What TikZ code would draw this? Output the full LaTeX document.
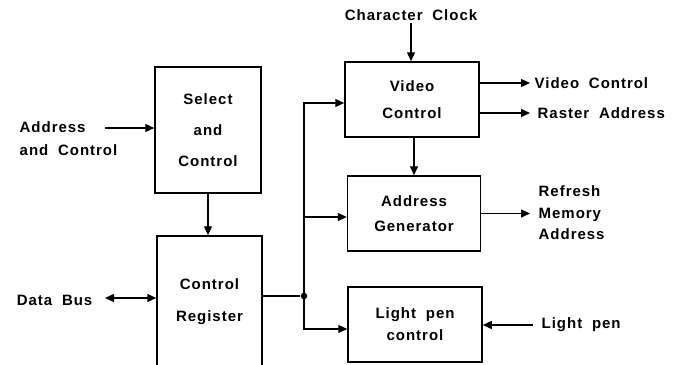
\documentclass[tikz,border=0pt]{standalone}
\usepackage{fontspec}
\setmainfont{Liberation Sans}[LetterSpace=6.5, WordSpace=1.9]
\usetikzlibrary{arrows.meta, calc, positioning}
\tikzset{
  % heavy strokes and solid tips, like the scanned original
  every picture/.append style = {line width=1.4pt, >={Triangle[length=9pt, width=8pt]}},
  blk/.style  = {draw, line width=1.5pt, align=center, inner sep=0pt,
                 font=\fontsize{15}{#1}\selectfont\bfseries},
  blk/.default = 26,
  sig/.style  = {->},
  lbl/.style  = {inner xsep=4pt, inner ysep=2pt, font=\fontsize{15}{#1}\selectfont\bfseries},
  lbl/.default = 22,
  tap/.style  = {circle, fill=black, inner sep=0pt, minimum size=6.5pt},
}

\begin{document}
\begin{tikzpicture}[x=1pt, y=-1pt]
  \clip (0,0) rectangle (674,364);
  % left column
  \node[blk=31, minimum width=106, minimum height=126] (selctl) at (208,130) {Select\\and\\Control};
  \node[blk=32, minimum width=105, minimum height=131] (ctlreg) at (209.5,301.5) {Control\\Register};
  \node[lbl=23, anchor=west, align=left] (addr) at (15,139) {Address\\and Control};
  \node[lbl, anchor=east] (dbus) at (97,300) {Data Bus};
  \coordinate (addrin) at (105,128);
  \coordinate (dbin) at (105,298);
  \draw[sig] (addrin) -- (addrin -| selctl.west);
  \draw[<->] (dbin) -- (dbin -| ctlreg.west);
  \draw[sig] (selctl) -- (selctl |- ctlreg.north);
  % right column
  \node[blk=27, minimum width=134, minimum height=75] (vidctl) at (412,99.5) {Video\\Control};
  \node[blk=25, minimum width=133, minimum height=75] (addrgen) at (414,213.5) {Address\\Generator};
  \node[blk=22, minimum width=134, minimum height=75] (lpctl) at (415,324.5) {Light pen\\control};
  \node[lbl] (clk) at (411,15) {Character Clock};
  \node[lbl, anchor=west] (vcout) at (530,83) {Video Control};
  \node[lbl, anchor=west, inner xsep=7pt] (raout) at (530,113) {Raster Address};
  \node[lbl=21.5, anchor=west, align=left, inner xsep=8pt] (rma) at (530,213) {Refresh\\Memory\\Address};
  \node[lbl, anchor=west, inner xsep=8pt] (lp) at (533,325) {Light pen};
  \draw[sig] (clk) -- (clk |- vidctl.north);
  \draw[sig] (vidctl.east |- vcout) -- (vcout);
  \draw[sig] (vidctl.east |- raout) -- (raout);
  \draw[sig] (vidctl.south -| addrgen) -- (addrgen.north);
  \draw[sig] (addrgen.east) -- (addrgen.east -| rma.west);
  \draw[sig] (lp.west) -- (lp.west -| lpctl.east);
  % bus from the control register
  \node[tap] (jn) at (304,296) {};
  \draw (ctlreg.east |- jn) -- (jn);
  \draw[sig] (jn.center) |- ([yshift=-3.5pt]vidctl.west);
  \draw[sig] (jn.center) |- ([yshift=-3.5pt]addrgen.west);
  \draw[sig] (jn.center) |- ([yshift=-4.5pt]lpctl.west);
\end{tikzpicture}
\end{document}
